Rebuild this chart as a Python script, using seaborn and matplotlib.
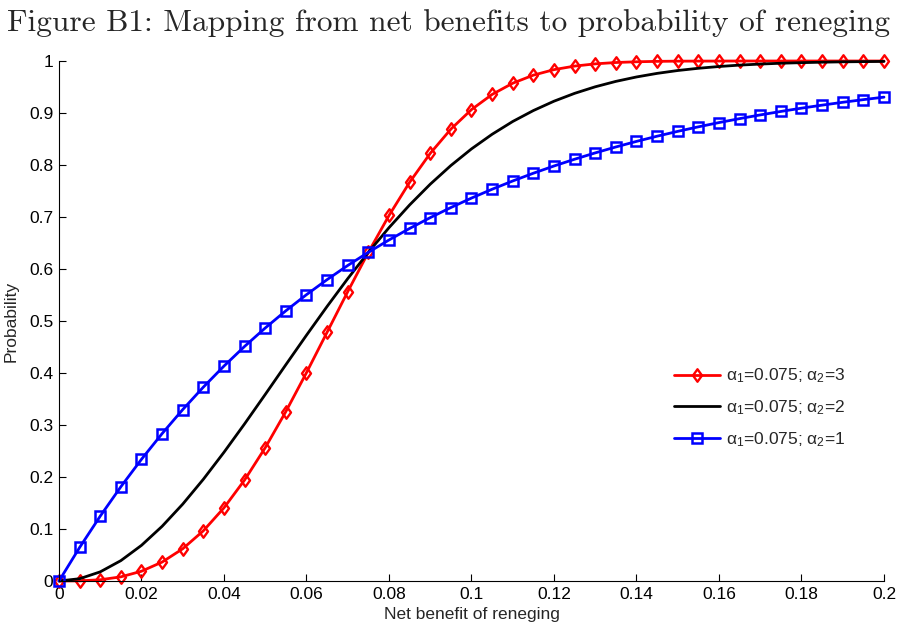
import numpy as np
import matplotlib
matplotlib.use("Agg")
import matplotlib.pyplot as plt
from matplotlib.path import Path
import seaborn as sns

# Net benefit of reneging (grid of evaluation points)
net_benefit = [0.000, 0.005, 0.010, 0.015, 0.020, 0.025, 0.030, 0.035, 0.040, 0.045,
               0.050, 0.055, 0.060, 0.065, 0.070, 0.075, 0.080, 0.085, 0.090, 0.095,
               0.100, 0.105, 0.110, 0.115, 0.120, 0.125, 0.130, 0.135, 0.140, 0.145,
               0.150, 0.155, 0.160, 0.165, 0.170, 0.175, 0.180, 0.185, 0.190, 0.195,
               0.200]

# Probability of reneging, alpha1 = 0.075, alpha2 = 3
prob_a3 = [0.0000, 0.0003, 0.0024, 0.0080, 0.0188, 0.0364, 0.0620, 0.0966, 0.1408, 0.1943,
           0.2564, 0.3259, 0.4007, 0.4785, 0.5565, 0.6321, 0.7029, 0.7668, 0.8224, 0.8690,
           0.9066, 0.9357, 0.9573, 0.9728, 0.9834, 0.9902, 0.9945, 0.9971, 0.9985, 0.9993,
           0.9997, 0.9998, 0.9999, 1.0000, 1.0000, 1.0000, 1.0000, 1.0000, 1.0000, 1.0000,
           1.0000]

# Probability of reneging, alpha1 = 0.075, alpha2 = 2
prob_a2 = [0.0000, 0.0044, 0.0176, 0.0392, 0.0686, 0.1052, 0.1479, 0.1957, 0.2476, 0.3023,
           0.3588, 0.4160, 0.4727, 0.5281, 0.5815, 0.6321, 0.6795, 0.7232, 0.7631, 0.7990,
           0.8310, 0.8591, 0.8837, 0.9047, 0.9227, 0.9378, 0.9504, 0.9608, 0.9693, 0.9762,
           0.9817, 0.9860, 0.9894, 0.9921, 0.9941, 0.9957, 0.9968, 0.9977, 0.9984, 0.9988,
           0.9992]

# Probability of reneging, alpha1 = 0.075, alpha2 = 1
prob_a1 = [0.0000, 0.0645, 0.1248, 0.1813, 0.2341, 0.2835, 0.3297, 0.3729, 0.4134, 0.4512,
           0.4866, 0.5197, 0.5507, 0.5796, 0.6068, 0.6321, 0.6558, 0.6780, 0.6988, 0.7182,
           0.7364, 0.7534, 0.7693, 0.7842, 0.7981, 0.8111, 0.8233, 0.8347, 0.8454, 0.8554,
           0.8647, 0.8734, 0.8816, 0.8892, 0.8963, 0.9030, 0.9093, 0.9151, 0.9206, 0.9257,
           0.9305]

labels = [r"$\alpha_1$=0.075; $\alpha_2$=3",
          r"$\alpha_1$=0.075; $\alpha_2$=2",
          r"$\alpha_1$=0.075; $\alpha_2$=1"]
x_ticks = [0, 0.02, 0.04, 0.06, 0.08, 0.1, 0.12, 0.14, 0.16, 0.18, 0.2]
x_ticklabels = ["0", "0.02", "0.04", "0.06", "0.08", "0.1", "0.12", "0.14", "0.16", "0.18", "0.2"]
y_ticks = [0, 0.1, 0.2, 0.3, 0.4, 0.5, 0.6, 0.7, 0.8, 0.9, 1]
y_ticklabels = ["0", "0.1", "0.2", "0.3", "0.4", "0.5", "0.6", "0.7", "0.8", "0.9", "1"]

sns.set_theme(style="ticks")
plt.rcParams["font.family"] = ["Liberation Sans", "DejaVu Sans"]
plt.rcParams["mathtext.default"] = "regular"
plt.rcParams["xtick.direction"] = "in"
plt.rcParams["ytick.direction"] = "in"

fig = plt.figure(figsize=(8.98, 6.25), dpi=100)
ax = fig.add_axes([0.0657, 0.0704, 0.9187, 0.832])

# slim open diamond like the MATLAB 'd' marker
diamond = Path([(0, 1), (0.72, 0), (0, -1), (-0.72, 0), (0, 1)],
               [Path.MOVETO, Path.LINETO, Path.LINETO, Path.LINETO, Path.CLOSEPOLY])

x = np.array(net_benefit)
sns.lineplot(x=x, y=np.array(prob_a3), ax=ax, color="red", linewidth=2.0,
             marker=diamond, markersize=9, markerfacecolor="none",
             markeredgecolor="red", markeredgewidth=1.7, label=labels[0],
             clip_on=False)
sns.lineplot(x=x, y=np.array(prob_a2), ax=ax, color="black", linewidth=2.0,
             label=labels[1], clip_on=False)
sns.lineplot(x=x, y=np.array(prob_a1), ax=ax, color="blue", linewidth=2.0,
             marker="s", markersize=7.5, markerfacecolor="none",
             markeredgecolor="blue", markeredgewidth=1.8, label=labels[2],
             clip_on=False)

ax.set_xlim(0, 0.2)
ax.set_ylim(0, 1)
ax.set_xticks(x_ticks)
ax.set_xticklabels(x_ticklabels)
ax.set_yticks(y_ticks)
ax.set_yticklabels(y_ticklabels)
ax.tick_params(axis="both", direction="in", length=5, width=0.8, colors="black",
               labelsize=12.5, pad=4)
for side in ("left", "bottom"):
    ax.spines[side].set_color("black")
    ax.spines[side].set_linewidth(0.8)
sns.despine(ax=ax)

ax.set_xlabel("Net benefit of reneging", fontsize=12.5, labelpad=4)
ax.set_ylabel("Probability", fontsize=12.5)
ax.yaxis.set_label_coords(-0.049, 0.5)

ax.legend(loc="center left", bbox_to_anchor=(0.745, 0.333), frameon=False,
          fontsize=12.5, handlelength=2.7, handletextpad=0.3, labelspacing=0.75,
          borderpad=0, borderaxespad=0)

fig.text(0.5, 0.963, "Figure B1: Mapping from net benefits to probability of reneging",
         ha="center", va="center", fontsize=22.6, family="cmr10")

fig.savefig("out.png", dpi=100)
